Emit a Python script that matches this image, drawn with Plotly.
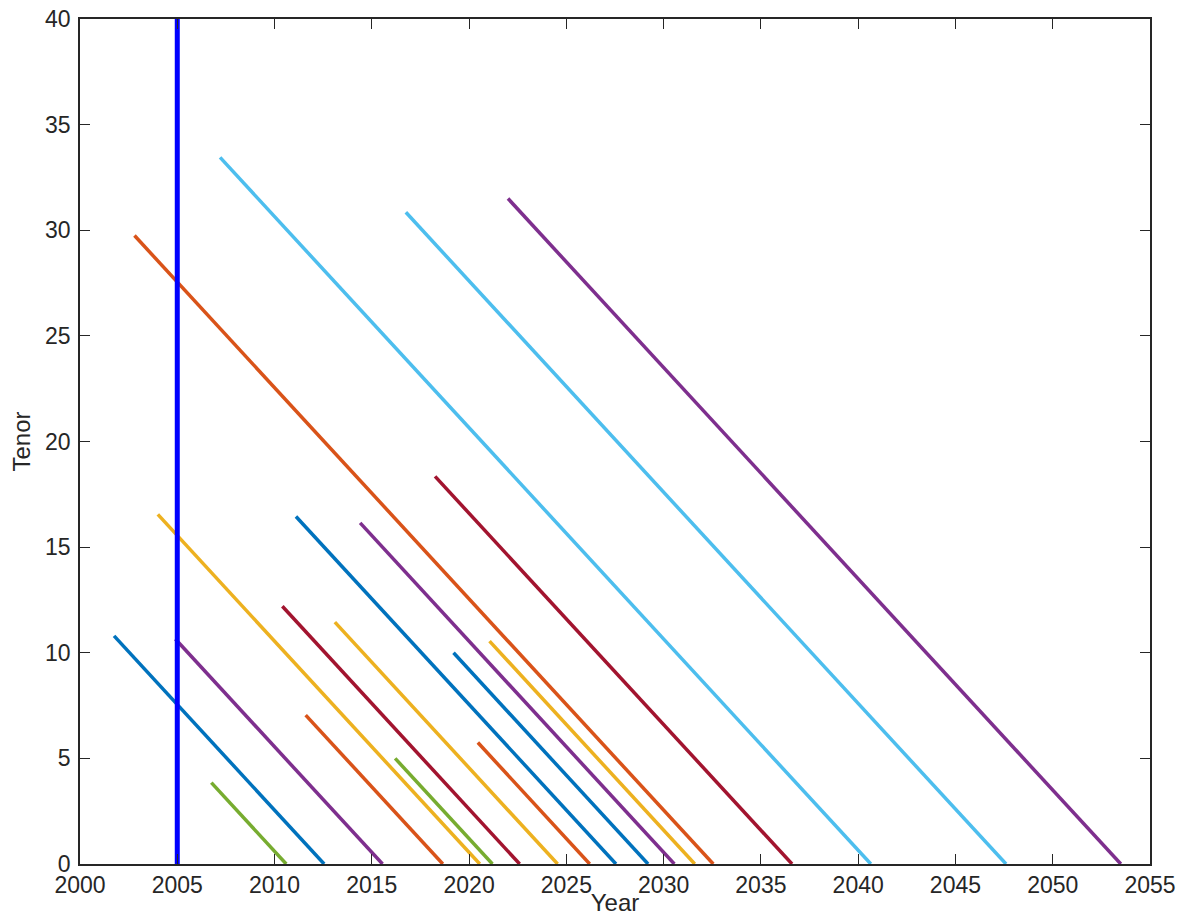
import plotly.graph_objects as go

# Each instrument: start year and tenor (years); line runs from (start, tenor) to (start+tenor, 0)
starts = [2001.75, 2002.8, 2004.0, 2004.9, 2006.75, 2007.2, 2010.4, 2011.1, 2011.6,
          2013.1, 2014.4, 2016.2, 2016.75, 2018.25, 2019.2, 2020.45, 2021.05, 2022.0]
tenors = [10.8, 29.75, 16.55, 10.65, 3.85, 33.45, 12.2, 16.45, 7.05,
          11.45, 16.15, 5.0, 30.85, 18.35, 10.0, 5.75, 10.55, 31.5]
palette = ["#0072BD", "#D95319", "#EDB120", "#7E2F8E", "#77AC30", "#4DBEEE", "#A2142F"]

ref_year = [2005, 2005]
ref_tenor = [0, 40]

xticks = list(range(2000, 2056, 5))
yticks = list(range(0, 41, 5))

FONT = "Liberation Sans, Arial"
fig = go.Figure()
for i, (s, t) in enumerate(zip(starts, tenors)):
    fig.add_trace(go.Scatter(x=[s, s + t], y=[t, 0], mode="lines",
                             line=dict(color=palette[i % len(palette)], width=3.5),
                             showlegend=False, hoverinfo="skip"))
fig.add_trace(go.Scatter(x=ref_year, y=ref_tenor, mode="lines",
                         line=dict(color="#0000FF", width=5), showlegend=False))

axis_common = dict(showgrid=False, zeroline=False, showline=True, linecolor="#262626",
                   linewidth=1.5, mirror="ticks", ticks="inside", ticklen=10,
                   tickwidth=1.2, tickcolor="#262626", automargin=False,
                   ticklabeloverflow="allow",
                   tickfont=dict(family=FONT, size=23, color="#262626"))

fig.update_layout(
    width=1168, height=908,
    margin=dict(l=72, r=26, t=11, b=52),
    plot_bgcolor="white", paper_bgcolor="white",
    xaxis=dict(range=[2000, 2055], tickvals=xticks, **axis_common,
               title=dict(text="Year", standoff=0,
                          font=dict(family=FONT, size=24, color="#262626"))),
    yaxis=dict(range=[0, 40], tickvals=yticks, ticklabelstandoff=3, **axis_common,
               title=dict(text="Tenor", standoff=8,
                          font=dict(family=FONT, size=24, color="#262626"))),
)
fig.write_html("out.html")
